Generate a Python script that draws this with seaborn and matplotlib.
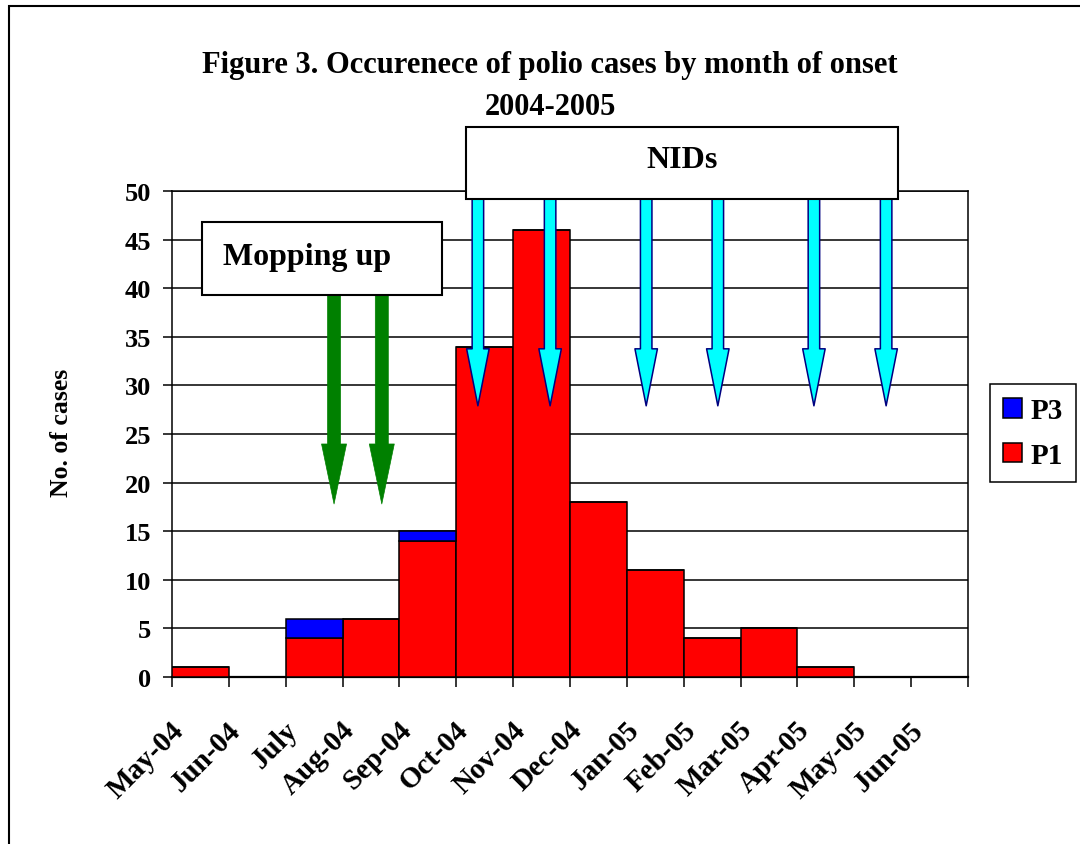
import numpy as np
import pandas as pd
import matplotlib
matplotlib.use("Agg")
import matplotlib.pyplot as plt
import seaborn as sns
from matplotlib.patches import Rectangle, Patch
from matplotlib.transforms import ScaledTranslation

# ---------------- data ----------------
months = ["May-04", "Jun-04", "July", "Aug-04", "Sep-04", "Oct-04", "Nov-04",
          "Dec-04", "Jan-05", "Feb-05", "Mar-05", "Apr-05", "May-05", "Jun-05"]
p1 = [1, 0, 4, 6, 14, 34, 46, 18, 11, 4, 5, 1, 0, 0]
p3 = [0, 0, 2, 0, 1, 0, 0, 0, 0, 0, 0, 0, 0, 0]
yticks = list(range(0, 51, 5))
mopping_x = [2.35, 3.19]          # campaign arrows (category units)
nids_x = [4.88, 6.15, 7.84, 9.10, 10.79, 12.06]

title1 = "Figure 3. Occurenece of polio cases by month of onset"
title2 = "2004-2005"

# ---------------- style ----------------
sns.set_theme(style="white")
plt.rcParams['font.family'] = ['Liberation Serif', 'DejaVu Serif']
plt.rcParams['font.weight'] = 'bold'
plt.rcParams['axes.labelweight'] = 'bold'
for k in ['text.color', 'axes.labelcolor', 'xtick.color', 'ytick.color',
          'axes.edgecolor']:
    plt.rcParams[k] = 'black'

W, H = 1080, 845
fig = plt.figure(figsize=(W / 100, H / 100), dpi=100)
fig.patch.set_facecolor('white')
ax = fig.add_axes([172 / W, 1 - 678 / H, (968 - 172) / W, (678 - 192) / H])

df = pd.DataFrame({"month": months, "P1": p1, "P3": p3})
bar_kw = dict(width=1.0, edgecolor='black', linewidth=1.1, saturation=1,
              errorbar=None, zorder=3)
sns.barplot(data=df, x="month", y="P1", color="#FF0000", ax=ax, **bar_kw)
sns.barplot(data=df, x="month", y="P3", color="#0000FF", ax=ax,
            bottom=df["P1"].to_numpy(), **bar_kw)

ax.set_xlim(-0.5, len(months) - 0.5)
ax.set_ylim(0, 50)
ax.set_xlabel("")
ax.set_ylabel("No. of cases", fontsize=18.5, fontweight='bold', color='black')
ax.yaxis.set_label_coords(-0.124, 0.505)

# y axis
ax.set_yticks(yticks)
ax.set_yticklabels([str(v) for v in yticks], fontsize=19, fontweight='bold')
ax.tick_params(axis='y', which='major', left=True, length=6.5, width=1.1,
               color='black', labelcolor='black', direction='out', pad=8.5)
ax.yaxis.grid(True, color='black', linewidth=1.1)
ax.xaxis.grid(False)
ax.set_axisbelow(True)

# x axis: tick marks on bar edges, labels between
ax.set_xticks(np.arange(-0.5, len(months), 1.0))
ax.set_xticklabels([])
ax.set_xticks(np.arange(len(months)), minor=True)
ax.set_xticklabels(months, minor=True, rotation=45, ha='right', va='top',
                   fontsize=21, fontweight='bold')
ax.tick_params(axis='x', which='major', bottom=True, length=7, width=1.1,
               color='black', direction='out')
ax.tick_params(axis='x', which='minor', bottom=True, length=0, pad=28,
               labelcolor='black')
offset = ScaledTranslation(-11 / 100, 0, fig.dpi_scale_trans)
for lab in ax.get_xticklabels(minor=True):
    lab.set_transform(lab.get_transform() + offset)

for side in ['left', 'right', 'top']:
    ax.spines[side].set_visible(True)
    ax.spines[side].set_color('black')
    ax.spines[side].set_linewidth(1.1)
ax.spines['bottom'].set_color('black')
ax.spines['bottom'].set_linewidth(1.6)


# ---------------- campaign arrows ----------------
def down_arrow(x, y_top, y_tip, face, edge, lw, tail_w, head_w, head_l):
    ax.annotate("", xy=(x, y_tip), xytext=(x, y_top), xycoords='data',
                textcoords='data', annotation_clip=False,
                arrowprops=dict(
                    arrowstyle=f"simple,head_length={head_l},head_width={head_w},tail_width={tail_w}",
                    fc=face, ec=edge, lw=lw, shrinkA=0, shrinkB=0,
                    mutation_scale=1),
                zorder=6)


px = 72 / 100  # pixels -> points
for x in mopping_x:
    down_arrow(x, 40.0, 17.8, "#008000", "#008000", 0.5,
               13 * px, 25 * px, 60 * px)
for x in nids_x:
    down_arrow(x, 50.0, 27.9, "#00FFFF", "#000080", 1.1,
               11.5 * px, 22.5 * px, 57 * px)

# ---------------- annotation boxes ----------------
def fig_box(x0, y0, x1, y1):
    r = Rectangle((x0 / W, 1 - y1 / H), (x1 - x0) / W, (y1 - y0) / H,
                  transform=fig.transFigure, facecolor='white',
                  edgecolor='black', linewidth=1.5, zorder=2)
    fig.add_artist(r)


fig_box(466, 128, 898, 200)
fig.text(682 / W, 1 - 168 / H, "NIDs", ha='center', va='baseline',
         fontsize=23, fontweight='bold', zorder=3, color='black')
fig_box(202, 223, 442, 296)
fig.text(223 / W, 1 - 265 / H, "Mopping up", ha='left', va='baseline',
         fontsize=23, fontweight='bold', zorder=3, color='black')

# ---------------- title ----------------
fig.text(550 / W, 1 - 73 / H, title1, ha='center', va='baseline',
         fontsize=22, fontweight='bold', color='black')
fig.text(550 / W, 1 - 115 / H, title2, ha='center', va='baseline',
         fontsize=22, fontweight='bold', color='black')

# ---------------- legend ----------------
handles = [Patch(facecolor="#0000FF", edgecolor='black', linewidth=1.1, label="P3"),
           Patch(facecolor="#FF0000", edgecolor='black', linewidth=1.1, label="P1")]
leg = fig.legend(handles=handles, loc='upper left',
                 bbox_to_anchor=(990 / W, 1 - 385 / H),
                 bbox_transform=fig.transFigure, fontsize=21,
                 frameon=True, fancybox=False, framealpha=1, edgecolor='black',
                 handlelength=0.65, handleheight=0.65, handletextpad=0.3,
                 borderpad=0.45, labelspacing=0.6, borderaxespad=0)
leg.get_frame().set_linewidth(1.1)
for t in leg.get_texts():
    t.set_fontweight('bold')
    t.set_color('black')

# ---------------- outer frame ----------------
fig.add_artist(Rectangle((9 / W, -0.05), 1.2, 1 - 7 / H + 0.05,
                         transform=fig.transFigure, fill=False,
                         edgecolor='black', linewidth=1.5, zorder=10))

fig.savefig("out.png", dpi=100, facecolor='white')
